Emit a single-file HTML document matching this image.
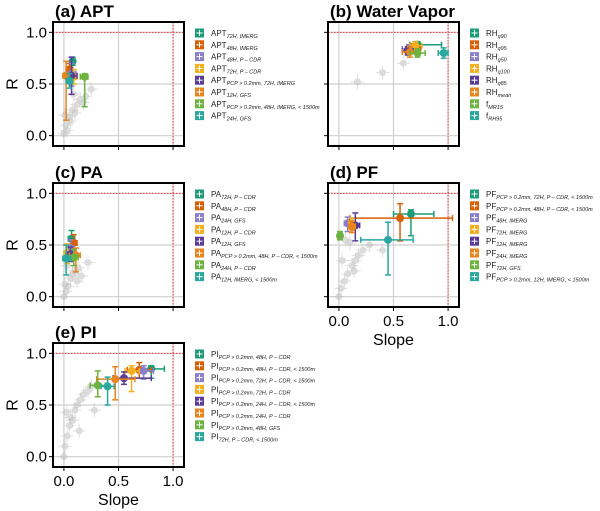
<!DOCTYPE html>
<html><head><meta charset="utf-8"><style>
body{margin:0;background:#fff}
svg{display:block;font-family:"Liberation Sans","DejaVu Sans",sans-serif}
</style></head><body>
<svg id="fig" width="600" height="511" viewBox="0 0 600 511"></svg>
<script>
const colors=["#1b9e77","#d95f02","#8a7fc8","#f2b01e","#5a3c98","#e8841a","#6cb33f","#2aa8a0"];
// Panel (a) APT
const aLabels=[["APT","72H, IMERG"],["APT","48H, IMERG"],["APT","48H, P – CDR"],["APT","72H, P – CDR"],["APT","PCP > 0.2mm, 72H, IMERG"],["APT","12H, GFS"],["APT","PCP > 0.2mm, 48H, IMERG, < 1500m"],["APT","24H, GFS"]];
const aX=[0.08,0.05,0.07,0.09,0.07,0.02,0.19,0.05];
const aY=[0.72,0.64,0.60,0.57,0.58,0.58,0.57,0.53];
const aXlo=[0.06,0.02,0.04,0.06,0.03,-0.01,0.15,0.02];
const aXhi=[0.10,0.08,0.11,0.12,0.12,0.05,0.22,0.08];
const aYlo=[0.68,0.57,0.48,0.50,0.40,0.15,0.28,0.46];
const aYhi=[0.76,0.70,0.70,0.64,0.76,0.72,0.60,0.60];
const aGX=[0.00,0.02,0.05,0.08,0.12,0.15,0.20,0.25,0.03,0.10,0.06,0.18,0.01,0.09];
const aGY=[0.02,0.10,0.18,0.25,0.30,0.35,0.38,0.45,0.05,0.22,0.14,0.32,0.20,0.40];
// Panel (b) Water vapor
const bLabels=[["RH","q90"],["RH","q95"],["RH","q50"],["RH","q100"],["RH","q85"],["RH","mean"],["f","MR15"],["f","RH95"]];
const bX=[0.72,0.68,0.64,0.70,0.63,0.65,0.72,0.96];
const bY=[0.88,0.85,0.84,0.87,0.82,0.81,0.80,0.80];
const bXlo=[0.65,0.62,0.58,0.65,0.58,0.58,0.65,0.91];
const bXhi=[0.94,0.75,0.70,0.76,0.68,0.73,0.79,1.00];
const bYlo=[0.84,0.80,0.80,0.83,0.78,0.76,0.76,0.75];
const bYhi=[0.91,0.89,0.88,0.91,0.86,0.86,0.84,0.85];
const bGX=[0.17,0.40,0.59];
const bGY=[0.52,0.61,0.70];
// Panel (c) PA
const cLabels=[["PA","72H, P – CDR"],["PA","48H, P – CDR"],["PA","24H, GFS"],["PA","12H, P – CDR"],["PA","12H, GFS"],["PA","PCP > 0.2mm, 48H, P – CDR, < 1500m"],["PA","24H, P – CDR"],["PA","12H, IMERG, < 1500m"]];
const cX=[0.07,0.09,0.06,0.03,0.06,0.11,0.09,0.02];
const cY=[0.56,0.52,0.47,0.42,0.41,0.40,0.38,0.37];
const cXlo=[0.04,0.06,0.03,0.00,0.03,0.05,0.05,-0.01];
const cXhi=[0.10,0.12,0.09,0.07,0.10,0.15,0.13,0.06];
const cYlo=[0.48,0.45,0.38,0.32,0.34,0.24,0.30,0.21];
const cYhi=[0.64,0.60,0.55,0.51,0.48,0.47,0.46,0.50];
const cGX=[0.00,0.02,0.04,0.06,0.08,0.10,0.13,0.16,0.22,0.03,0.12,0.01];
const cGY=[0.00,0.05,0.10,0.18,0.22,0.25,0.28,0.20,0.33,0.30,0.15,0.12];
// Panel (d) PF
const dLabels=[["PF","PCP > 0.2mm, 72H, P – CDR, < 1500m"],["PF","PCP > 0.2mm, 48H, P – CDR, < 1500m"],["PF","48H, IMERG"],["PF","72H, IMERG"],["PF","12H, IMERG"],["PF","24H, IMERG"],["PF","72H, GFS"],["PF","PCP > 0.2mm, 12H, IMERG, < 1500m"]];
const dX=[0.66,0.56,0.08,0.12,0.15,0.12,0.01,0.45];
const dY=[0.80,0.76,0.71,0.71,0.69,0.68,0.59,0.55];
const dXlo=[0.50,0.10,0.05,0.09,0.11,0.09,-0.01,0.20];
const dXhi=[0.87,1.04,0.11,0.15,0.19,0.15,0.03,0.68];
const dYlo=[0.59,0.54,0.63,0.64,0.54,0.62,0.55,0.21];
const dYhi=[0.84,0.90,0.77,0.76,0.81,0.73,0.63,0.72];
const dGX=[0.00,0.02,0.05,0.08,0.12,0.15,0.18,0.22,0.28,0.40,0.10,0.06,0.14,0.03];
const dGY=[0.00,0.08,0.15,0.22,0.30,0.35,0.40,0.45,0.50,0.45,0.52,0.55,0.25,0.35];
// Panel (e) PI
const eLabels=[["PI","PCP > 0.2mm, 48H, P – CDR"],["PI","PCP > 0.2mm, 48H, P – CDR, < 1500m"],["PI","PCP > 0.2mm, 72H, P – CDR, < 1500m"],["PI","PCP > 0.2mm, 72H, P – CDR"],["PI","PCP > 0.2mm, 24H, P – CDR, < 1500m"],["PI","PCP > 0.2mm, 24H, P – CDR"],["PI","PCP > 0.2mm, 48H, GFS"],["PI","72H, P – CDR, < 1500m"]];
const eX=[0.80,0.69,0.73,0.62,0.55,0.47,0.31,0.40];
const eY=[0.85,0.84,0.83,0.83,0.76,0.75,0.69,0.68];
const eXlo=[0.69,0.58,0.64,0.56,0.45,0.30,0.24,0.34];
const eXhi=[0.92,0.80,0.82,0.69,0.80,0.65,0.38,0.46];
const eYlo=[0.76,0.76,0.75,0.63,0.70,0.55,0.58,0.50];
const eYhi=[0.88,0.91,0.88,0.88,0.82,0.87,0.83,0.77];
const eGX=[0.00,0.01,0.03,0.05,0.06,0.10,0.12,0.15,0.18,0.22,0.28,0.02,0.14,0.08,0.25];
const eGY=[0.00,0.10,0.20,0.30,0.38,0.45,0.50,0.55,0.60,0.64,0.45,0.43,0.25,0.35,0.68];

const NS="http://www.w3.org/2000/svg";
const svg=document.getElementById('fig');
function mk(tag,attrs,parent){const e=document.createElementNS(NS,tag);for(const k in attrs)e.setAttribute(k,attrs[k]);(parent||svg).appendChild(e);return e;}

const panels=[
 {id:"a",title:"(a) APT",L:53,T:22,labels:aLabels,x:aX,y:aY,xl:aXlo,xh:aXhi,yl:aYlo,yh:aYhi,gx:aGX,gy:aGY,ylab:true,xlab:false,lx:195},
 {id:"b",title:"(b) Water Vapor",L:328,T:22,labels:bLabels,x:bX,y:bY,xl:bXlo,xh:bXhi,yl:bYlo,yh:bYhi,gx:bGX,gy:bGY,ylab:false,xlab:false,lx:470},
 {id:"c",title:"(c) PA",L:53,T:183,labels:cLabels,x:cX,y:cY,xl:cXlo,xh:cXhi,yl:cYlo,yh:cYhi,gx:cGX,gy:cGY,ylab:true,xlab:false,lx:195},
 {id:"d",title:"(d) PF",L:328,T:183,labels:dLabels,x:dX,y:dY,xl:dXlo,xh:dXhi,yl:dYlo,yh:dYhi,gx:dGX,gy:dGY,ylab:false,xlab:true,lx:470},
 {id:"e",title:"(e) PI",L:53,T:343,labels:eLabels,x:eX,y:eY,xl:eXlo,xh:eXhi,yl:eYlo,yh:eYhi,gx:eGX,gy:eGY,ylab:true,xlab:true,lx:195}
];
const W=131,H=124;
panels.forEach(p=>{
 const g=mk('g',{});
 
 
 const sx=v=>p.L+(v+0.1)/1.2*W;
 const sy=v=>p.T+H-(v+0.1)/1.2*H;
 const t=mk('text',{x:p.L+2,y:p.T-5,'font-size':17,'font-weight':'bold',fill:'#000'},g);t.textContent=p.title;
 
 
 [0,0.5,1].forEach(v=>{
  mk('line',{x1:sx(v),x2:sx(v),y1:p.T,y2:p.T+H,stroke:'#cfcfcf','stroke-width':1.2},g);
  mk('line',{x1:p.L,x2:p.L+W,y1:sy(v),y2:sy(v),stroke:'#cfcfcf','stroke-width':1.2},g);
  mk('line',{x1:sx(v),x2:sx(v),y1:p.T+H,y2:p.T+H+4,stroke:'#000','stroke-width':1},g);
  mk('line',{x1:p.L-4,x2:p.L,y1:sy(v),y2:sy(v),stroke:'#000','stroke-width':1},g);
  if(p.ylab){const tt=mk('text',{x:p.L-6,y:sy(v)+5,'font-size':15,'text-anchor':'end'},g);tt.textContent=v.toFixed(1);
   
   }
  if(p.xlab){const tt=mk('text',{x:sx(v),y:p.T+H+19,'font-size':15,'text-anchor':'middle'},g);tt.textContent=v.toFixed(1);
   
   }
 });
 mk('line',{x1:sx(1),x2:sx(1),y1:p.T,y2:p.T+H,stroke:'#e33','stroke-width':1,'stroke-dasharray':'1.5,1.5'},g);
 mk('line',{x1:p.L,x2:p.L+W,y1:sy(1),y2:sy(1),stroke:'#e33','stroke-width':1,'stroke-dasharray':'1.5,1.5'},g);
 if(p.ylab){const cy=p.T+H/2;const r=mk('text',{x:13,y:cy,'font-size':16,'text-anchor':'middle','dominant-baseline':'central',transform:`rotate(-90 13 ${cy})`},g);r.textContent='R';
  
  }
 if(p.xlab){const s=mk('text',{x:p.L+W/2,y:p.T+H+38,'font-size':16,'text-anchor':'middle'},g);s.textContent='Slope';
  
  }
 p.gx.forEach((v,i)=>{
  const c=mk('g',{opacity:0.55},g);
  
  
  const cx=sx(v),cy=sy(p.gy[i]);
  mk('line',{x1:sx(v-0.06),x2:sx(v+0.06),y1:cy,y2:cy,stroke:'#c8c8c8','stroke-width':1},c);
  mk('line',{x1:cx,x2:cx,y1:sy(p.gy[i]-0.07),y2:sy(p.gy[i]+0.07),stroke:'#c8c8c8','stroke-width':1},c);
  mk('circle',{cx:cx,cy:cy,r:3.5,fill:'#c0c0c0'},c);
 });
 p.x.forEach((v,i)=>{
  const c=mk('g',{},g);
  
  
  const col=colors[i],cx=sx(v),cy=sy(p.y[i]);
  const x1=sx(p.xl[i]),x2=sx(p.xh[i]),y1=sy(p.yl[i]),y2=sy(p.yh[i]);
  mk('line',{x1:x1,x2:x2,y1:cy,y2:cy,stroke:col,'stroke-width':1.5},c);
  mk('line',{x1:cx,x2:cx,y1:y1,y2:y2,stroke:col,'stroke-width':1.5},c);
  [x1,x2].forEach(xx=>mk('line',{x1:xx,x2:xx,y1:cy-3,y2:cy+3,stroke:col,'stroke-width':1.5},c));
  [y1,y2].forEach(yy=>mk('line',{x1:cx-3,x2:cx+3,y1:yy,y2:yy,stroke:col,'stroke-width':1.5},c));
  mk('circle',{cx:cx,cy:cy,r:4,fill:col},c);
 });
 mk('rect',{x:p.L,y:p.T,width:W,height:H,fill:'none',stroke:'#000','stroke-width':2},g);
 p.labels.forEach((lab,i)=>{
  const ly=p.T+11+i*11.8;
  const c=mk('g',{},g);
  
  
  mk('rect',{x:p.lx,y:ly-4.5,width:9,height:9,fill:colors[i]},c);
  mk('line',{x1:p.lx+4.5,x2:p.lx+4.5,y1:ly-3,y2:ly+3,stroke:'#fff','stroke-width':1},c);
  mk('line',{x1:p.lx+1.5,x2:p.lx+7.5,y1:ly,y2:ly,stroke:'#fff','stroke-width':1},c);
  const tx=mk('text',{x:p.lx+16,y:ly+3,'font-size':8,fill:'#222'},c);
  const a=mk('tspan',{},tx);a.textContent=lab[0];
  const b=mk('tspan',{'font-size':5.5,'font-style':'italic',dy:2},tx);b.textContent=lab[1];
 });
});
</script>
</body></html>
